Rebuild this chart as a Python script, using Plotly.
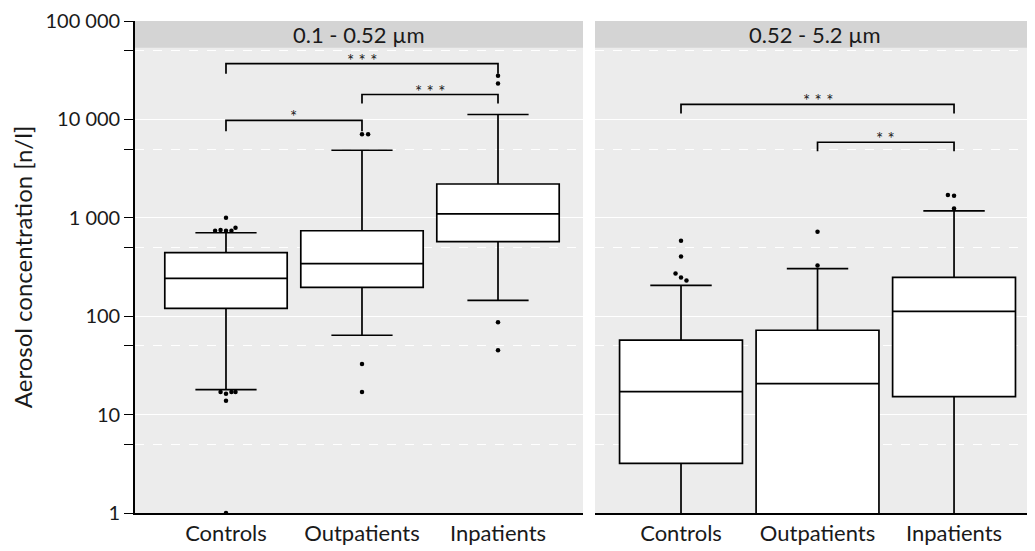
import plotly.graph_objects as go
from plotly.subplots import make_subplots
import math

groups = ["Controls", "Outpatients", "Inpatients"]
panels = ["0.1 - 0.52 µm", "0.52 - 5.2 µm"]

# box statistics per panel (Controls, Outpatients, Inpatients)
fine_q1 = [120, 196, 572]
fine_median = [242, 343, 1097]
fine_q3 = [443, 739, 2205]
fine_lower = [17.9, 64, 145]
fine_upper = [705, 4860, 11220]

coarse_q1 = [3.2, 0.5, 15.2]
coarse_median = [17.1, 20.6, 112]
coarse_q3 = [57, 72, 248]
coarse_lower = [0.1, 0.1, 0.1]
coarse_upper = [206, 305, 1176]

# outliers
fine_out_group = ["Controls"] * 12 + ["Outpatients"] * 4 + ["Inpatients"] * 4
fine_out_value = [1000, 740, 750, 740, 740, 790, 17, 16.3, 17, 17, 13.8, 1,
                  7050, 7050, 32.7, 17,
                  27800, 23100, 87, 45]
fine_out_offset = [0, -0.08, -0.04, 0, 0.04, 0.07, -0.04, 0, 0.04, 0.07, 0, 0,
                   0, 0.045, 0, 0,
                   0, 0, 0, 0]

coarse_out_group = ["Controls"] * 5 + ["Outpatients"] * 2 + ["Inpatients"] * 3
coarse_out_value = [586, 404, 272, 248, 231,
                    722, 327,
                    1708, 1680, 1240]
coarse_out_offset = [0, 0, -0.04, 0, 0.04,
                     0, 0,
                     -0.045, 0, 0]

# significance brackets: (group a, group b, bracket top value, tick end value, label)
fine_br_a = ["Controls", "Outpatients", "Controls"]
fine_br_b = ["Inpatients", "Inpatients", "Outpatients"]
fine_br_top = [36800, 17900, 9770]
fine_br_end = [29150, 14520, 7570]
fine_br_label = ["* * *", "* * *", "*"]

coarse_br_a = ["Controls", "Outpatients"]
coarse_br_b = ["Inpatients", "Inpatients"]
coarse_br_top = [14190, 5860]
coarse_br_end = [11500, 4750]
coarse_br_label = ["* * *", "* *"]

ytick_vals = [1, 10, 100, 1000, 10000, 100000]
ytick_text = ["1", "10", "100", "1 000", "10 000", "100 000"]
yminor_vals = [5, 50, 500, 5000, 50000]

FONT = "Lato"
TXT = "#1a1a1a"

fig = make_subplots(rows=1, cols=2, shared_yaxes=True)

panel_data = [
    (fine_q1, fine_median, fine_q3, fine_lower, fine_upper,
     fine_out_group, fine_out_value, fine_out_offset,
     fine_br_a, fine_br_b, fine_br_top, fine_br_end, fine_br_label),
    (coarse_q1, coarse_median, coarse_q3, coarse_lower, coarse_upper,
     coarse_out_group, coarse_out_value, coarse_out_offset,
     coarse_br_a, coarse_br_b, coarse_br_top, coarse_br_end, coarse_br_label),
]

gpos = [groups.index(g) for g in groups]

annotations = []
for col, (q1, med, q3, lo, up, og, ov, oo, ba, bb, bt, be, bl) in enumerate(panel_data, start=1):
    fig.add_trace(go.Box(
        x=gpos, q1=q1, median=med, q3=q3, lowerfence=lo, upperfence=up,
        width=0.9, whiskerwidth=0.5, fillcolor="white",
        line=dict(color="black", width=1.7), boxpoints=False,
        hoverinfo="skip", showlegend=False,
    ), row=1, col=col)
    ox = [groups.index(g) + off for g, off in zip(og, oo)]
    fig.add_trace(go.Scatter(
        x=ox, y=ov, mode="markers",
        marker=dict(color="black", size=4.5),
        showlegend=False, hoverinfo="skip",
    ), row=1, col=col)
    for a, b, top, end, lab in zip(ba, bb, bt, be, bl):
        ia, ib = groups.index(a), groups.index(b)
        fig.add_trace(go.Scatter(
            x=[ia, ia, ib, ib], y=[end, top, top, end], mode="lines",
            line=dict(color="black", width=1.7),
            showlegend=False, hoverinfo="skip",
        ), row=1, col=col)
        annotations.append(dict(
            x=(ia + ib) / 2, y=math.log10(top), xref=f"x{'' if col == 1 else col}",
            yref=f"y{'' if col == 1 else col}", text=lab, showarrow=False,
            yanchor="top", yshift=16, font=dict(family=FONT, size=17, color=TXT),
        ))

# facet strips
strip_bottom = 1 - 27 / 495
shapes = []
for col, name in enumerate(panels, start=1):
    xr = "x domain" if col == 1 else "x2 domain"
    shapes.append(dict(type="rect", xref=xr, yref="paper", x0=0, x1=1,
                       y0=strip_bottom, y1=1, fillcolor="#d4d4d4",
                       line=dict(width=0), layer="above"))
    annotations.append(dict(x=0.5, y=(1 + strip_bottom) / 2, xref=xr, yref="paper",
                            text=name, showarrow=False, yanchor="middle",
                            font=dict(family=FONT, size=22, color=TXT)))

# page body has an 8px margin: compensate so the plot lands where the reference is
fig.update_layout(
    width=1027, height=543,
    margin=dict(l=127, r=0, t=10, b=38),
    paper_bgcolor="white", plot_bgcolor="#ececec",
    font=dict(family=FONT, color=TXT),
    shapes=shapes, annotations=annotations,
    showlegend=False,
)

yaxis_common = dict(
    type="log", range=[0, 5],
    tickvals=ytick_vals, ticktext=ytick_text,
    showgrid=True, gridcolor="white", gridwidth=1.2,
    zeroline=False,
    minor=dict(tickvals=yminor_vals, showgrid=True, gridcolor="white",
               griddash="dash", gridwidth=1),
)
fig.update_yaxes(**yaxis_common)
fig.update_yaxes(row=1, col=1,
                 showline=True, linecolor="black", linewidth=1.6,
                 ticks="outside", ticklen=9, tickwidth=1.4, tickcolor="black",
                 ticklabeloverflow="allow",
                 tickfont=dict(family=FONT, size=20, color=TXT),
                 minor_ticks="outside", minor_ticklen=9, minor_tickwidth=1.4,
                 minor_tickcolor="black",
                 title=dict(text="Aerosol concentration [n/l]",
                            font=dict(family=FONT, size=24, color=TXT), standoff=8))
fig.update_yaxes(row=1, col=2, showline=False, ticks="", showticklabels=False)

fig.update_xaxes(tickvals=gpos, ticktext=groups,
                 showgrid=False, zeroline=False,
                 showline=True, linecolor="black", linewidth=1.6,
                 ticks="", tickfont=dict(family=FONT, size=22, color=TXT))
fig.update_xaxes(row=1, col=1, range=[-0.669, 2.625], domain=[0, 448 / 900])
fig.update_xaxes(row=1, col=2, range=[-0.63, 2.593], domain=[460 / 900, 1])

fig.write_html("out.html")
